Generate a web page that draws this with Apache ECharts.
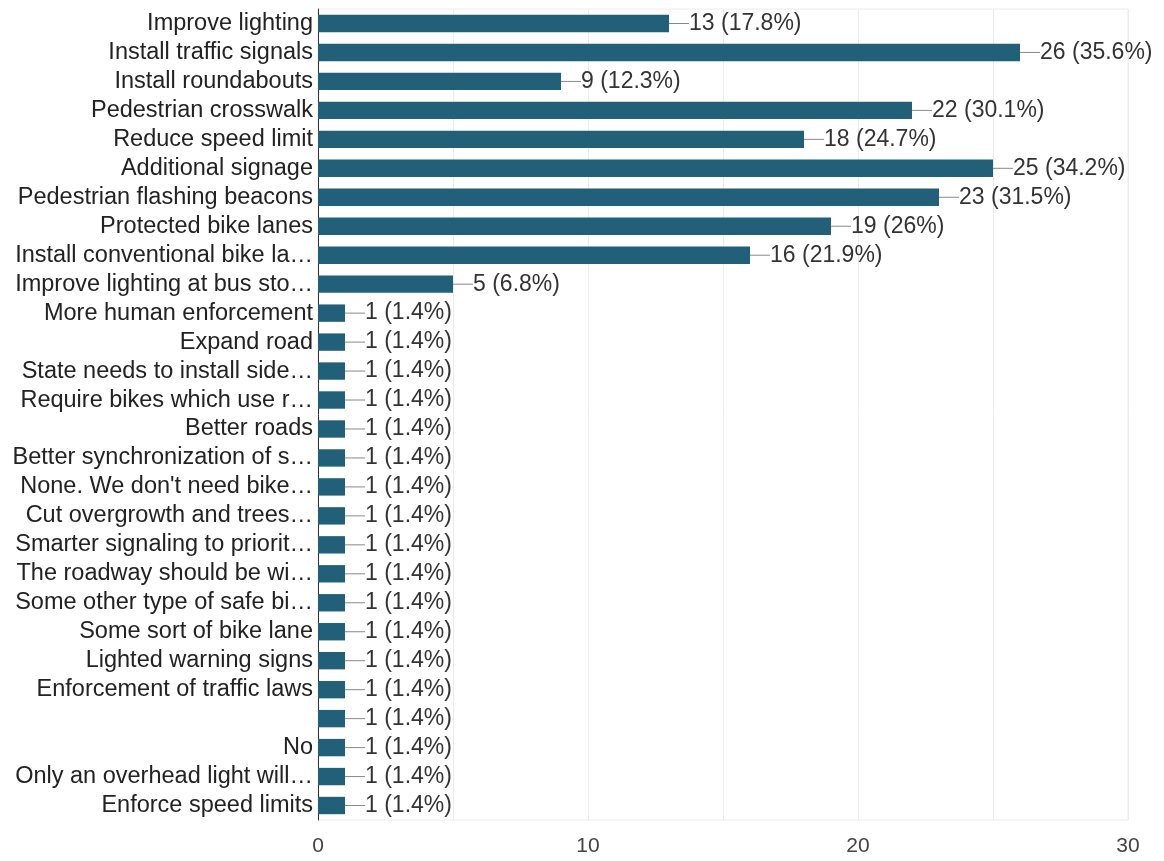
<!DOCTYPE html>
<html>
<head>
<meta charset="utf-8">
<script src="https://cdn.jsdelivr.net/npm/echarts@6/dist/echarts.min.js"></script>
<style>
  html, body { margin: 0; padding: 0; background: #fff; }
  #chart { width: 1164px; height: 861px; }
</style>
</head>
<body>
<div id="chart"></div>
<script>
const categories = [
  'Improve lighting',
  'Install traffic signals',
  'Install roundabouts',
  'Pedestrian crosswalk',
  'Reduce speed limit',
  'Additional signage',
  'Pedestrian flashing beacons',
  'Protected bike lanes',
  'Install conventional bike la…',
  'Improve lighting at bus sto…',
  'More human enforcement',
  'Expand road',
  'State needs to install side…',
  'Require bikes which use r…',
  'Better roads',
  'Better synchronization of s…',
  "None. We don't need bike…",
  'Cut overgrowth and trees…',
  'Smarter signaling to priorit…',
  'The roadway should be wi…',
  'Some other type of safe bi…',
  'Some sort of bike lane',
  'Lighted warning signs',
  'Enforcement of traffic laws',
  '',
  'No',
  'Only an overhead light will…',
  'Enforce speed limits'
]
const counts = [13, 26, 9, 22, 18, 25, 23, 19, 16, 5,
  1, 1, 1, 1, 1, 1, 1, 1, 1, 1, 1, 1, 1, 1, 1, 1, 1, 1]
const percents = ['17.8%', '35.6%', '12.3%', '30.1%', '24.7%', '34.2%', '31.5%', '26%', '21.9%', '6.8%',
  '1.4%', '1.4%', '1.4%', '1.4%', '1.4%', '1.4%', '1.4%', '1.4%', '1.4%', '1.4%',
  '1.4%', '1.4%', '1.4%', '1.4%', '1.4%', '1.4%', '1.4%', '1.4%']
const xTicks = [0, 10, 20, 30]

const font = 'Liberation Sans, Arial, sans-serif'
let myChart = echarts.init(document.getElementById('chart'))
myChart.setOption({
  animation: false,
  grid: {
    left: 318, right: 36, top: 9, bottom: 41, containLabel: false,
    show: true, borderColor: '#ececec', borderWidth: 1
  },
  xAxis: {
    type: 'value',
    min: 0,
    max: 30,
    interval: 5,
    axisLine: { show: false },
    axisTick: { show: false },
    splitLine: { show: true, lineStyle: { color: '#ececec', width: 1 } },
    axisLabel: {
      margin: 16,
      color: '#444',
      fontFamily: font,
      fontSize: 21,
      formatter: v => (xTicks.indexOf(v) >= 0 ? String(v) : '')
    }
  },
  yAxis: {
    type: 'category',
    inverse: true,
    data: categories,
    axisLine: { show: true, lineStyle: { color: '#333', width: 1 } },
    axisTick: { show: false },
    axisLabel: { interval: 0, color: '#222', fontFamily: font, fontSize: 23.5, margin: 5 }
  },
  series: [{
    type: 'bar',
    data: counts,
    barCategoryGap: '40%',
    itemStyle: { color: '#225f78' },
    label: {
      show: true,
      position: 'right',
      distance: 0,
      formatter: p => '{l|}' + p.value + ' (' + percents[p.dataIndex] + ')',
      color: '#333',
      fontFamily: font,
      fontSize: 23,
      rich: {
        l: { width: 20, height: 1, backgroundColor: '#888', padding: 0 }
      }
    }
  }]
})
</script>
</body>
</html>
